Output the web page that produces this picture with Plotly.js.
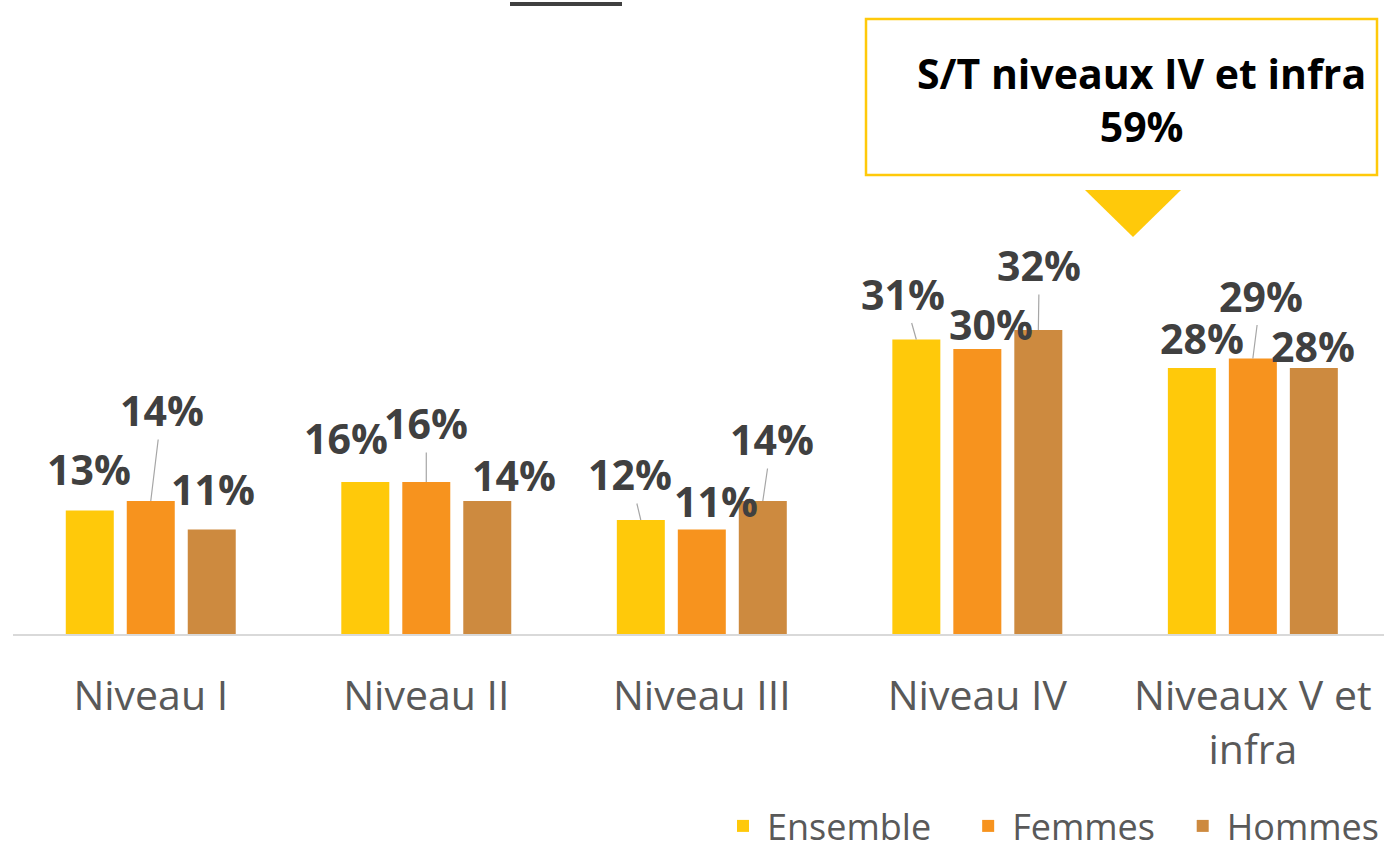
<!DOCTYPE html>
<html>
<head>
<meta charset="utf-8">
<script src="https://cdn.plot.ly/plotly-3.0.1.min.js"></script>
<style>
  html, body { margin: 0; padding: 0; background: #ffffff; }
  #chart { width: 1384px; height: 856px; }
</style>
</head>
<body>
<div id="chart"></div>
<script>
// ---- Data ----
const categories = ["Niveau I", "Niveau II", "Niveau III", "Niveau IV", "Niveaux V et<br>infra"];
const ensemble = [13, 16, 12, 31, 28];
const femmes   = [14, 16, 11, 30, 29];
const hommes   = [11, 14, 14, 32, 28];
const seriesNames = ["Ensemble", "Femmes", "Hommes"];
const boxLine1 = "S/T niveaux IV et infra";
const boxValue = 59;

// ---- Styles ----
const colors = ["#FFC90A", "#F7931E", "#CD8A3F"];
const FONT = "'Open Sans', 'Noto Sans', sans-serif";
const series = [ensemble, femmes, hommes];
const legendPad = ["\u00a0\u00a0\u00a0", "\u00a0\u00a0", ""];

// label placement (pixel offsets of label centre from bar top) and leader-line flag
// index: [series][category] -> [ax, ay, leader]
const labelOffsets = [
  [[-1, -42, 0], [-19, -44, 0], [-11, -46, 1], [-13, -46, 1], [10, -30, 0]],
  [[11, -91, 1], [0, -59, 1], [14, -29, 0], [14, -25, 0], [8, -63, 1]],
  [[1, -41, 0], [27, -26, 0], [9, -62, 1], [1, -65, 1], [-1, -22, 0]]
];
const barShiftPx = [-61, 0, 61];

const traces = series.map((vals, i) => ({
  type: "bar",
  name: seriesNames[i] + legendPad[i],
  x: categories,
  y: vals,
  marker: { color: colors[i], line: { width: 0 } },
  hoverinfo: "none"
}));

const annotations = [];
series.forEach((vals, i) => {
  vals.forEach((v, j) => {
    const off = labelOffsets[i][j];
    annotations.push({
      x: categories[j], y: v, xref: "x", yref: "y",
      xshift: barShiftPx[i],
      text: v + "%",
      showarrow: true, arrowhead: 0, arrowwidth: 1.2, standoff: 0,
      arrowcolor: off[2] ? "#A6A6A6" : "rgba(0,0,0,0)",
      ax: off[0], ay: off[1],
      font: { family: FONT, size: 41, color: "#404040", weight: 700 }
    });
  });
});

// Callout text
annotations.push({
  xref: "paper", yref: "paper",
  x: (1141 - 13) / 1371, y: (634 - 99) / 634,
  xanchor: "center", yanchor: "middle",
  showarrow: false,
  text: "<b>" + boxLine1 + "<br>" + boxValue + "%</b>",
  font: { family: FONT, size: 41, color: "#000000" },
  align: "center"
});

const shapes = [
  // callout box
  { type: "rect", xref: "paper", yref: "paper", xsizemode: "pixel", ysizemode: "pixel",
    xanchor: 0, yanchor: 1, x0: 853, x1: 1364, y0: -175, y1: -19,
    line: { color: "#FFC90A", width: 2.5 }, fillcolor: "rgba(0,0,0,0)" },
  // down triangle
  { type: "path", xref: "paper", yref: "paper", xsizemode: "pixel", ysizemode: "pixel",
    xanchor: 0, yanchor: 1, path: "M1072,-190 L1168,-190 L1120,-237 Z",
    line: { width: 0 }, fillcolor: "#FFC90A" },
  // dark line fragment at top
  { type: "line", xref: "paper", yref: "paper", xsizemode: "pixel", ysizemode: "pixel",
    xanchor: 0, yanchor: 1, x0: 497, x1: 609, y0: -4, y1: -4,
    line: { color: "#404040", width: 4 } }
];

const layout = {
  width: 1384, height: 856,
  margin: { l: 13, r: 0, t: 0, b: 222, autoexpand: false },
  paper_bgcolor: "#ffffff", plot_bgcolor: "#ffffff",
  barmode: "group", bargap: 0.336, bargroupgap: 0.213,
  font: { family: FONT },
  xaxis: {
    type: "category",
    range: [-0.5, 4.476],
    showline: true, linecolor: "#D9D9D9", linewidth: 2,
    ticks: "", showgrid: false, zeroline: false,
    tickfont: { family: FONT, size: 41, color: "#595959" },
    ticklabelstandoff: 25,
    fixedrange: true
  },
  yaxis: {
    range: [0, 634 / 9.5],
    visible: false, showgrid: false, zeroline: false, fixedrange: true
  },
  showlegend: true,
  legend: {
    orientation: "h", x: 1, xanchor: "right", y: (634 - 856) / 634, yanchor: "bottom",
    font: { family: FONT, size: 36, color: "#595959" },
    itemwidth: 38,
    bgcolor: "rgba(0,0,0,0)"
  },
  annotations: annotations,
  shapes: shapes
};

Plotly.newPlot("chart", traces, layout, { displayModeBar: false, staticPlot: true });
</script>
</body>
</html>
